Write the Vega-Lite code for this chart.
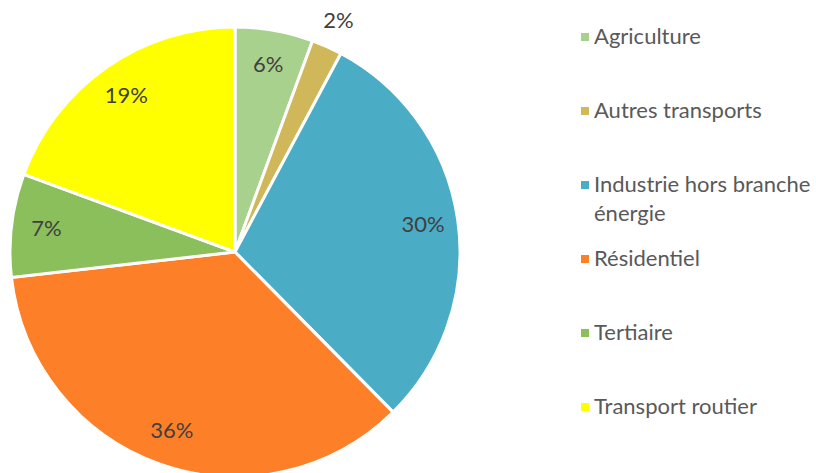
{
  "$schema": "https://vega.github.io/schema/vega-lite/v6.json",
  "width": 470,
  "height": 442,
  "autosize": {"type": "none"},
  "padding": {"left": 0, "top": 31, "right": 346, "bottom": 0},
  "background": "white",
  "config": {"view": {"stroke": null}, "style": {"guide-label": {"lineHeight": 29}}},
  "data": {
    "values": [
      {"sector": "Agriculture", "share": 0.056},
      {"sector": "Autres transports", "share": 0.022},
      {"sector": "Industrie hors branche énergie", "share": 0.298},
      {"sector": "Résidentiel", "share": 0.356},
      {"sector": "Tertiaire", "share": 0.074},
      {"sector": "Transport routier", "share": 0.194}
    ]
  },
  "encoding": {
    "theta": {"field": "share", "type": "quantitative", "stack": true},
    "order": {"field": "sector", "type": "ordinal"}
  },
  "layer": [
    {
      "mark": {"type": "arc", "outerRadius": 225, "stroke": "white", "strokeWidth": 3},
      "encoding": {
        "color": {
          "field": "sector",
          "type": "nominal",
          "scale": {
            "domain": ["Agriculture", "Autres transports", "Industrie hors branche énergie", "Résidentiel", "Tertiaire", "Transport routier"],
            "range": ["#A9D18E", "#D0B85A", "#4BACC6", "#FD7F27", "#8BBF5C", "#FFFF00"]
          },
          "legend": {
            "title": null,
            "orient": "none",
            "legendX": 574,
            "legendY": -5,
            "padding": 0,
            "symbolType": "square",
            "symbolSize": 64,
            "symbolStrokeWidth": 0,
            "labelFont": "Lato",
            "labelFontSize": 22,
            "labelColor": "#595959",
            "labelOffset": -2,
            "labelLimit": 300,
            "rowPadding": 23,
            "labelExpr": "datum.label == 'Industrie hors branche énergie' ? ['Industrie hors branche', 'énergie'] : [datum.label, '']"
          }
        }
      }
    },
    {
      "mark": {"type": "text", "font": "Lato", "fontSize": 22, "color": "#404040", "radius": 190},
      "encoding": {
        "detail": {"field": "sector", "type": "nominal"},
        "text": {
          "condition": {"test": "datum.share < 0.03", "value": ""},
          "field": "share", "type": "quantitative", "format": ".0%"
        }
      }
    },
    {
      "mark": {"type": "text", "font": "Lato", "fontSize": 22, "color": "#404040", "radius": 253},
      "encoding": {
        "detail": {"field": "sector", "type": "nominal"},
        "text": {
          "condition": {"test": "datum.share >= 0.03", "value": ""},
          "field": "share", "type": "quantitative", "format": ".0%"
        }
      }
    }
  ]
}
